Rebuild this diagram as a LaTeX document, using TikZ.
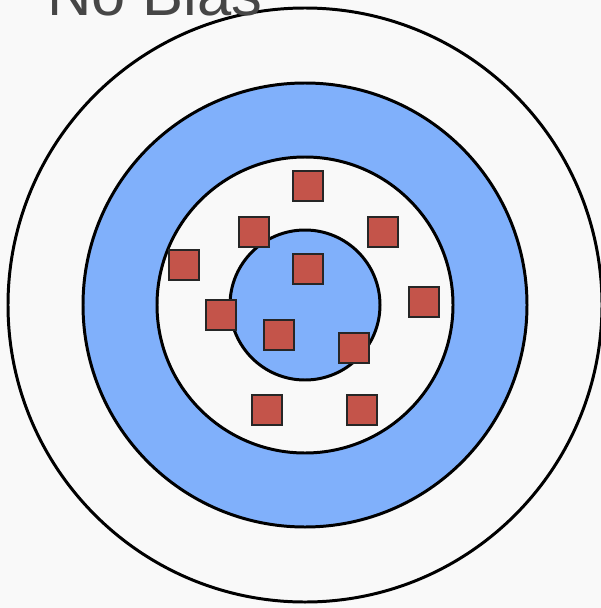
\documentclass[tikz,border=0pt]{standalone}
\usepackage{fontspec}
\setsansfont{Liberation Sans}
\usepackage{tikz}
\definecolor{paper}{RGB}{249,249,249}
\definecolor{ringblue}{RGB}{128,176,251}
\definecolor{shotred}{RGB}{196,84,74}
\definecolor{titlegray}{RGB}{70,70,70}

\begin{document}
\begin{tikzpicture}[
    x=0.02cm, y=-0.02cm,
    ring/.style={draw=black, line width=1.7pt},
    shot/.style={rectangle, draw=black!85, line width=0.8pt, fill=shotred,
      minimum size=0.6cm, inner sep=0pt},
    title/.style={font=\sffamily\fontsize{35}{42}\selectfont, text=titlegray,
      anchor=base west, inner sep=0pt}
  ]
  \clip (0,0) rectangle (601,608);
  \fill[paper] (0,0) rectangle (601,608);
  % target rings, outside in
  \draw[ring, fill=paper]    (305,305) circle[radius=297];
  \draw[ring, fill=ringblue] (305,305) circle[radius=222];
  \draw[ring, fill=paper]    (305,305) circle[radius=148];
  \draw[ring, fill=ringblue] (305,305) circle[radius=75];
  \node[title] (head) at (47,16) {No Bias};
  % shots
  \foreach \name/\px/\py in {s1/308/186, s2/254/232, s3/383/232, s4/184/265,
      s5/308/269, s6/424/302, s7/221/315, s8/279/335, s9/354/348,
      s10/267/410, s11/362/410}
    \node[shot] (\name) at (\px,\py) {};
\end{tikzpicture}
\end{document}
